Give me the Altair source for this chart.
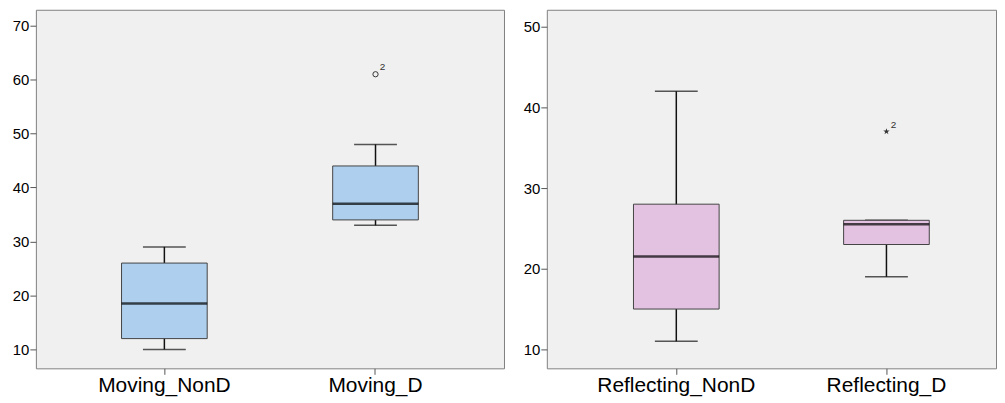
import altair as alt
import pandas as pd

# Left panel
left_cats = ["Moving_NonD", "Moving_D"]
left_wlow = [10, 33]
left_q1 = [12, 34]
left_med = [18.5, 37]
left_q3 = [26, 44]
left_whigh = [29, 48]
left_out_cat = ["Moving_D"]
left_out_val = [61]
left_out_lab = ["2"]

# Right panel
right_cats = ["Reflecting_NonD", "Reflecting_D"]
right_wlow = [11, 19]
right_q1 = [15, 23]
right_med = [21.5, 25.5]
right_q3 = [28, 26]
right_whigh = [42, 26]
right_out_cat = ["Reflecting_D"]
right_out_val = [37]
right_out_lab = ["2"]

left_ticks = [10, 20, 30, 40, 50, 60, 70]
right_ticks = [10, 20, 30, 40, 50]

STAR = "M0,-1L0.2245,-0.309L0.9511,-0.309L0.3633,0.118L0.5878,0.809L0,0.382L-0.5878,0.809L-0.3633,0.118L-0.9511,-0.309L-0.2245,-0.309Z"


def panel(cats, wlow, q1, med, q3, whigh, ocat, oval, olab, ticks, domain,
          width, fill, shape, filled, psize, pad, align):
    df = pd.DataFrame({"cat": cats, "wlow": wlow, "q1": q1, "med": med,
                       "q3": q3, "whigh": whigh})
    odf = pd.DataFrame({"cat": ocat, "val": oval, "lab": olab})
    xs = alt.X("cat:N", sort=cats, title=None,
               scale=alt.Scale(paddingInner=0, paddingOuter=pad, align=align),
               axis=alt.Axis(labelAngle=0, labelFontSize=21, labelColor="#000",
                             labelFont="Liberation Sans", tickSize=6,
                             tickColor="#555", domain=False, labelPadding=0,
                             bandPosition=0.5))
    ysc = alt.Scale(domain=domain, nice=False, zero=False)
    yax = alt.Axis(values=ticks, grid=False, domain=False, tickSize=6,
                   tickColor="#555", labelFontSize=15, labelColor="#000",
                   labelFont="Liberation Sans", labelPadding=1, title=None)
    base = alt.Chart(df)
    whisk = base.mark_rule(color="#111", strokeWidth=1.5).encode(
        x=xs, y=alt.Y("wlow:Q", scale=ysc, axis=yax), y2="whigh:Q")
    caps_lo = base.mark_tick(color="#111", size=43, thickness=1.5).encode(
        x=xs, y=alt.Y("wlow:Q", scale=ysc))
    caps_hi = base.mark_tick(color="#111", size=43, thickness=1.5).encode(
        x=xs, y=alt.Y("whigh:Q", scale=ysc))
    box = base.mark_bar(size=86, fill=fill, stroke="#444", strokeWidth=1).encode(
        x=xs, y=alt.Y("q1:Q", scale=ysc), y2="q3:Q")
    medm = base.mark_tick(color="#000", size=86, thickness=2.5).encode(
        x=xs, y=alt.Y("med:Q", scale=ysc))
    pts = alt.Chart(odf).mark_point(shape=shape, filled=filled, size=psize,
                                    color="#333", strokeWidth=1,
                                    opacity=1).encode(
        x=xs, y=alt.Y("val:Q", scale=ysc))
    txt = alt.Chart(odf).mark_text(dx=7, dy=-7, fontSize=10, color="#333",
                                   font="Liberation Sans").encode(
        x=xs, y=alt.Y("val:Q", scale=ysc), text="lab:N")
    return alt.layer(whisk, caps_lo, caps_hi, box, medm, pts, txt).properties(
        width=width, height=360)


left = panel(left_cats, left_wlow, left_q1, left_med, left_q3, left_whigh,
             left_out_cat, left_out_val, left_out_lab, left_ticks,
             [6.49, 72.95], 470, "#aecfee", "circle", False, 28, 0.1085, 0.5)
right = panel(right_cats, right_wlow, right_q1, right_med, right_q3,
              right_whigh, right_out_cat, right_out_val, right_out_lab,
              right_ticks, [7.65, 52.1], 451, "#e3c1e1", STAR, True, 45,
              0.0687, 0.845)

chart = alt.hconcat(left, right, spacing=17).properties(
    padding={"left": 3, "top": 0, "right": 0, "bottom": 0},
    background="white",
).configure_view(fill="#f0f0f0", stroke="#808080", strokeWidth=1)

chart.save("out.html", embed_options={"renderer": "svg", "actions": False})
